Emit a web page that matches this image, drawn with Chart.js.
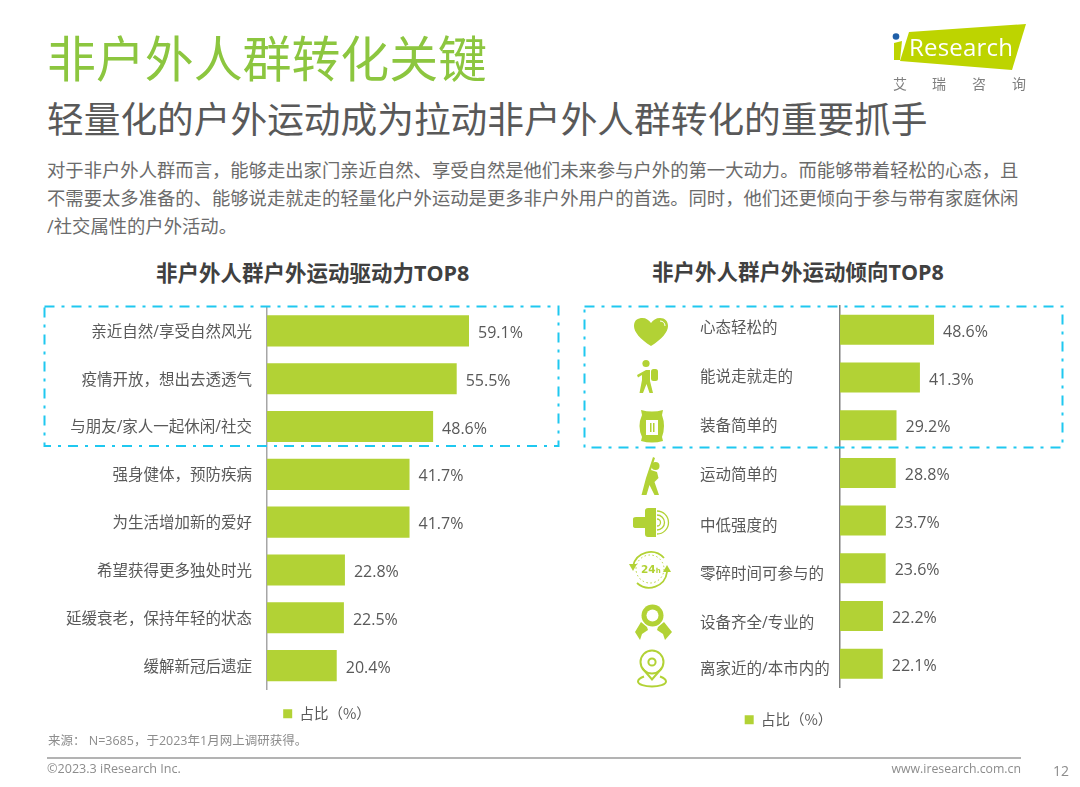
<!DOCTYPE html>
<html lang="zh">
<head>
<meta charset="utf-8">
<title>非户外人群转化关键</title>
<script src="https://cdn.jsdelivr.net/npm/chart.js@4"></script>
<style>
html, body { margin: 0; padding: 0; background: #fff; }
body { width: 1080px; height: 787px; position: relative; overflow: hidden; font-family: "Open Sans", "Noto Sans CJK SC", sans-serif; }
.t { position: absolute; white-space: nowrap; }
canvas { position: absolute; }
#art { position: absolute; left: 0; top: 0; }
</style>
</head>
<body>
<div class="t" style="left:47px;top:27px;font-size:48.9px;line-height:62px;color:#8cc63f;">非户外人群转化关键</div>
<div class="t" style="left:47px;top:94px;font-size:36.7px;line-height:50px;color:#595959;">轻量化的户外运动成为拉动非户外人群转化的重要抓手</div>
<div class="t" style="left:47px;top:156px;font-size:18.34px;line-height:28px;color:#6b6b6b;">对于非户外人群而言，能够走出家门亲近自然、享受自然是他们未来参与户外的第一大动力。而能够带着轻松的心态，且<br>不需要太多准备的、能够说走就走的轻量化户外运动是更多非户外用户的首选。同时，他们还更倾向于参与带有家庭休闲<br>/社交属性的户外活动。</div>
<div class="t" style="left:156px;top:258px;font-size:21.5px;line-height:30px;font-weight:700;color:#404040;">非户外人群户外运动驱动力TOP8</div>
<div class="t" style="left:652px;top:257px;font-size:21.5px;line-height:30px;font-weight:700;color:#404040;">非户外人群户外运动倾向TOP8</div>

<canvas id="leftChart" style="left:44px;top:300px;width:566px;height:431px;"></canvas>
<canvas id="rightChart" style="left:584px;top:300px;width:430px;height:437px;"></canvas>

<svg id="art" width="1080" height="787" viewBox="0 0 1080 787">
  <!-- dashed frames -->
  <g fill="none" stroke="#1fc8f0" stroke-width="2" stroke-dasharray="10 7 3 7">
    <rect x="44.5" y="306.5" width="514" height="139.5"/>
    <rect x="584.5" y="306.5" width="478" height="141"/>
  </g>
  <!-- logo -->
  <polygon points="909,32 1026,24 1012,70 900,61" fill="#bdd400"/>
  <polygon points="894,43 902,41 900,60 894,60" fill="#bdd400"/>
  <circle cx="896" cy="36.5" r="3.3" fill="#1f5fa8"/>
  <text x="909" y="56" font-family="Open Sans" font-size="24" fill="#fff" textLength="104">Research</text>
  <g font-family="Noto Sans CJK SC" font-size="14" fill="#7f7f7f">
    <text x="893" y="89">艾</text><text x="932" y="89">瑞</text><text x="972" y="89">咨</text><text x="1012" y="89">询</text>
  </g>
  <!-- row icons -->
  <g fill="#b2d235">
    <path d="M651 346C640 339 634 332 634 326C634 320 638 318 642.500 318C646 318 649 320 651 323C653 320 656 318 660 318C665 318 668 321 668 326C668 332 662 339 651 346Z"/>
    <path d="M660 321C663 321 665 323 665 326" fill="none" stroke="#fff" stroke-width="1"/>
    <circle cx="646" cy="363.500" r="3.600"/>
    <rect x="651" y="369" width="7" height="12" rx="2.500"/>
    <path d="M646 370L650 370L650 381L653 393L649.500 393L646.500 384L643 393L639.500 393L642 380L642 375L638 377.500L637 375Z"/>
    <path d="M641 410Q652 413 663 410L662 415Q666 426 662 437L663 441Q652 444 641 441L642 437Q637 426 642 415Z"/>
    <rect x="646" y="420" width="12" height="15" fill="#fff"/>
    <rect x="650" y="423" width="1.500" height="9"/><rect x="653" y="423" width="1.500" height="9"/>
    <circle cx="655.500" cy="466" r="4"/>
    <path d="M653 457L655 458L651 470L657 472L658.500 478L654.500 482L659 495L654.500 495L649.500 485L646.500 495L641.500 495L646 478Z"/>
    <path d="M633 519Q633 517 636 517L645 517L645 511Q645 508 648 508L656 508L656 537L648 537Q645 537 645 534L645 528L636 528Q633 528 633 526Z"/>
    <g fill="none" stroke="#b2d235">
      <path d="M657 515A7.500 7.500 0 0 1 657 530" stroke-width="1.300"/>
      <path d="M657 511A11.500 11.500 0 0 1 657 534" stroke-width="1.300"/>
      <path d="M657 519A3.500 3.500 0 0 1 657 526" stroke-width="1.300"/>
      <path d="M633 566A18 18 0 0 1 664 558" stroke-width="1.800"/>
      <path d="M667 572A18 18 0 0 1 637 583" stroke-width="1.800"/>
      <circle cx="650" cy="569" r="14" stroke-width="1" stroke-dasharray="1.500 2.500"/>
      <circle cx="652" cy="662" r="11.500" stroke-width="2"/>
      <circle cx="652" cy="662" r="3.600" stroke-width="2"/>
      <path d="M642.500 668.500L652 679.500L661.500 668.500" stroke-width="2"/>
      <path d="M644 676.500C640 678 638 679.500 638 681.500C638 684.500 645 686.500 652 686.500C659 686.500 666 684.500 666 681.500C666 679.500 664 678 660 676.500" stroke-width="2"/>
    </g>
    <path d="M629 564L637 564L633 571Z"/>
    <path d="M663 572L671 572L667 565Z"/>
    <text x="641" y="573" font-family="DejaVu Sans" font-weight="700" font-size="10.500">24<tspan font-size="7">h</tspan></text>
    <circle cx="652.500" cy="615.500" r="11"/>
    <circle cx="652.500" cy="615.500" r="6" fill="#fff"/>
    <path d="M641 622L647 627L648 630L642 634L640 640L635 632Z"/>
    <path d="M664 622L658 627L657 630L663 634L665 640L672 632Z"/>
  </g>
</svg>

<div class="t" style="left:48px;top:732px;font-size:12.5px;line-height:18px;color:#8c8c8c;">来源： N=3685，于2023年1月网上调研获得。</div>
<div style="position:absolute;left:47px;top:757px;width:974px;height:2px;background:#b3b3b3;"></div>
<div class="t" style="left:47px;top:760px;font-size:12.6px;line-height:18px;color:#8c8c8c;">©2023.3 iResearch Inc.</div>
<div class="t" style="right:59px;top:760px;font-size:12.3px;line-height:18px;color:#8c8c8c;">www.iresearch.com.cn</div>
<div class="t" style="left:1053px;top:761px;font-size:14px;line-height:20px;color:#8c8c8c;">12</div>

<script>
const driverLabels = ['亲近自然/享受自然风光', '疫情开放，想出去透透气', '与朋友/家人一起休闲/社交', '强身健体，预防疾病', '为生活增加新的爱好', '希望获得更多独处时光', '延缓衰老，保持年轻的状态', '缓解新冠后遗症'];
const driverValues = [59.1, 55.5, 48.6, 41.7, 41.7, 22.8, 22.5, 20.4];

const tendencyLabels = ['心态轻松的', '能说走就走的', '装备简单的', '运动简单的', '中低强度的', '零碎时间可参与的', '设备齐全/专业的', '离家近的/本市内的'];
const tendencyValues = [48.6, 41.3, 29.2, 28.8, 23.7, 23.6, 22.2, 22.1];

const seriesName = '占比（%）';

const barColor = '#b2d235';
const textColor = '#595959';
const chartFont = '"Open Sans", "Noto Sans CJK SC", sans-serif';

// the right chart's labels sit a little off their bars in the original
const tendencyLabelShift = [-1.5, 0.5, 1.5, 2.5, 5.5, 6.5, 7.5, 5.5];

const valueLabels = {
    id: 'valueLabels',
    afterDatasetsDraw(chart) {
        const c = chart.ctx;
        c.save();
        c.font = '16px ' + chartFont;
        c.fillStyle = textColor;
        c.textBaseline = 'middle';
        chart.getDatasetMeta(0).data.forEach((bar, i) => {
            c.fillText(chart.data.datasets[0].data[i] + '%', bar.x + 9, bar.y + 2.5);
        });
        c.restore();
    }
};

const sideLabels = {
    id: 'sideLabels',
    afterDraw(chart) {
        const c = chart.ctx;
        const yScale = chart.scales.y;
        c.save();
        c.font = '15.5px ' + chartFont;
        c.fillStyle = textColor;
        c.textBaseline = 'middle';
        chart.data.labels.forEach((label, i) => {
            c.fillText(label, 116, yScale.getPixelForTick(i) + tendencyLabelShift[i]);
        });
        c.restore();
    }
};

function barOptions(xMax, axisWidth, axisColor, padding, legendPadding, showTicks) {
    return {
        indexAxis: 'y',
        responsive: false,
        animation: false,
        layout: { padding: padding },
        plugins: {
            tooltip: { enabled: false },
            legend: {
                position: 'bottom',
                labels: {
                    boxWidth: 9,
                    boxHeight: 9,
                    padding: legendPadding,
                    color: textColor,
                    font: { family: '"Noto Sans CJK TC", sans-serif', size: 14.5 }
                }
            }
        },
        scales: {
            x: { display: false, min: 0, max: xMax },
            y: {
                grid: { display: false },
                border: { color: axisColor, width: 1.5 },
                afterFit(scale) {
                    scale.width = axisWidth;
                    scale.paddingTop = 0;
                    scale.paddingBottom = 0;
                },
                ticks: {
                    display: showTicks,
                    color: textColor,
                    padding: 7,
                    labelOffset: 1.5,
                    font: { family: chartFont, size: 15.5 }
                }
            }
        }
    };
}

const leftCanvas = document.getElementById('leftChart');
leftCanvas.width = 566;
leftCanvas.height = 431;

new Chart(leftCanvas, {
    type: 'bar',
    data: {
        labels: driverLabels,
        datasets: [{
            label: seriesName,
            data: driverValues,
            backgroundColor: barColor,
            barPercentage: 0.65,
            categoryPercentage: 1
        }]
    },
    options: barOptions(100.35, 223, '#a6a6a6', { top: 7 }, 17, true),
    plugins: [valueLabels]
});

const rightCanvas = document.getElementById('rightChart');
rightCanvas.width = 430;
rightCanvas.height = 437;

new Chart(rightCanvas, {
    type: 'bar',
    data: {
        labels: tendencyLabels,
        datasets: [{
            label: seriesName,
            data: tendencyValues,
            backgroundColor: barColor,
            barPercentage: 0.63,
            categoryPercentage: 1
        }]
    },
    options: barOptions(79.07, 256, '#7f7f7f', { top: 6, right: 21 }, 25, false),
    plugins: [valueLabels, sideLabels]
});
</script>
</body>
</html>
